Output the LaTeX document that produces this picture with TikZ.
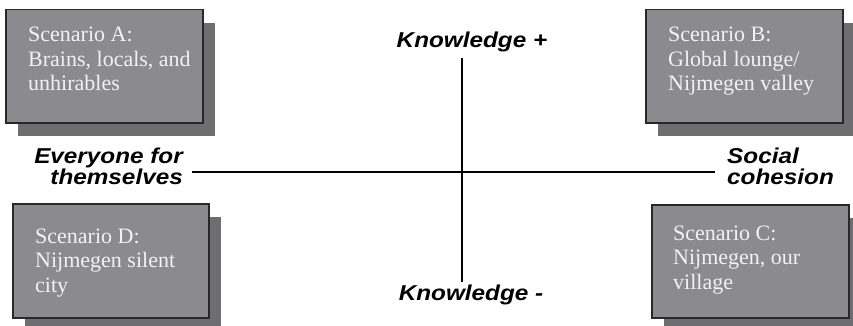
\documentclass[tikz,border=0pt]{standalone}
\usepackage{fontspec}
\setmainfont{Liberation Serif}
\newfontfamily\axisfont[FakeStretch=1.13]{Liberation Sans}
\usetikzlibrary{calc,shadows}
\definecolor{boxgray}{RGB}{139,139,143}
\definecolor{shadegray}{RGB}{110,110,113}
\definecolor{edgegray}{RGB}{40,40,40}
\definecolor{textwhite}{RGB}{242,242,242}
\tikzset{
	scenbox/.style={draw=edgegray, line width=1.5pt, fill=boxgray, anchor=north west,
		minimum width=197pt, minimum height=113pt, inner sep=0pt,
		drop shadow={shadow xshift=12.5pt, shadow yshift=-13pt, fill=shadegray, opacity=1}},
	scentext/.style={text=textwhite, align=left, anchor=base west, inner sep=0pt,
		font=\fontsize{22}{24.5}\selectfont},
	axislabel/.style={inner sep=0pt, font=\fontsize{21.5}{21}\axisfont\bfseries\itshape}
}
\begin{document}
\begin{tikzpicture}[x=1pt, y=-1pt]
	\useasboundingbox (0,0) rectangle (853,326);
	% the four scenarios (text anchored on its last line)
	\node[scenbox] (boxA) at (5,9) {};
	\node[scenbox] (boxB) at (645,9) {};
	\node[scenbox, minimum width=196pt, minimum height=114pt] (boxD) at (12,203) {};
	\node[scenbox] (boxC) at (651,204) {};
	\node[scentext] (txtA) at ($(boxA.north west)+(23,82)$) {Scenario A:\\Brains, locals, and\\unhirables};
	\node[scentext] (txtB) at ($(boxB.north west)+(23,82)$) {Scenario B:\\Global lounge/\\Nijmegen valley};
	\node[scentext] (txtD) at ($(boxD.north west)+(23,89)$) {Scenario D:\\Nijmegen silent\\city};
	\node[scentext] (txtC) at ($(boxC.north west)+(22,85)$) {Scenario C:\\Nijmegen, our\\village};
	% axes
	\coordinate (mid) at (462,172);
	\node[axislabel, anchor=base] (knowplus) at (472,48) {Knowledge +};
	\node[axislabel, anchor=base] (knowminus) at (471,300) {Knowledge -};
	\node[axislabel, align=right, anchor=east] (everyone) at (183,166) {Everyone for\\themselves};
	\node[axislabel, align=left, anchor=west] (social) at (727,166) {Social\\cohesion};
	\draw[line width=2pt] (everyone.east |- mid) ++(9,0) -- ($(social.west |- mid)+(-12,0)$);
	\draw[line width=2pt] (mid |- knowplus.south) ++(0,5) -- ($(mid |- knowminus.north)+(0,-2)$);
\end{tikzpicture}
\end{document}
